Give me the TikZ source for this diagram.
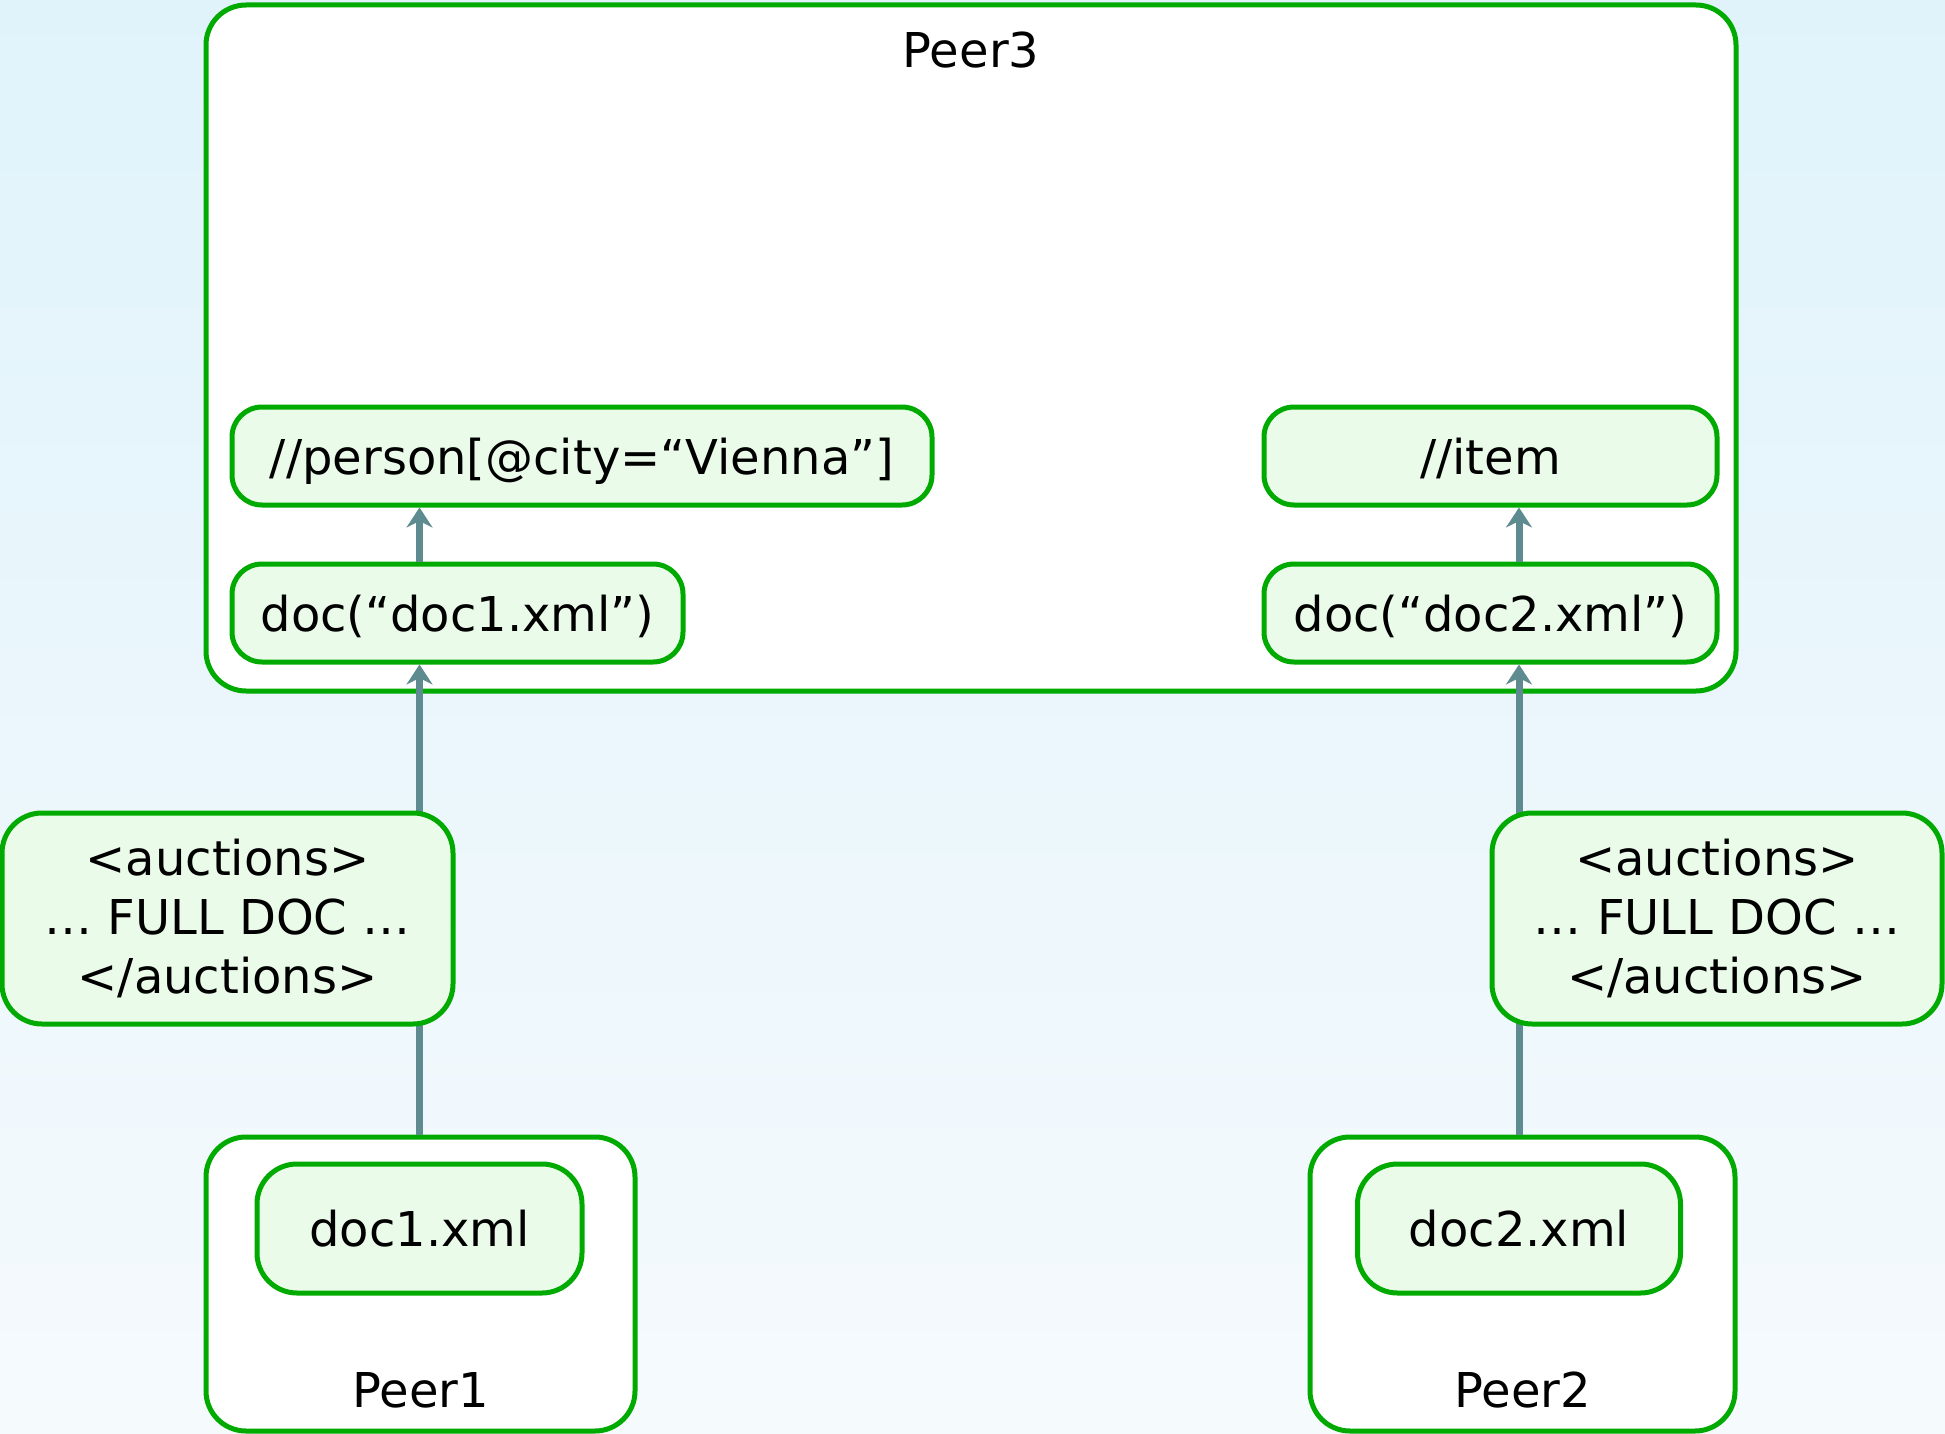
\documentclass[tikz,border=0pt]{standalone}
\usepackage{fontspec}
\setmainfont{DejaVu Sans}
\usetikzlibrary{arrows.meta}

\definecolor{boxgreen}{RGB}{0,170,0}
\definecolor{boxfill}{RGB}{234,251,234}
\definecolor{flowgray}{RGB}{94,139,144}
\definecolor{bgtop}{RGB}{224,243,251}
\definecolor{bgbottom}{RGB}{245,250,253}

\tikzset{
    peerbox/.style={draw=boxgreen, line width=2.5pt, fill=white, rounded corners=20pt, inner sep=0pt},
    querybox/.style={draw=boxgreen, line width=2.5pt, fill=boxfill, rounded corners=15pt, inner sep=0pt, minimum height=49pt, text depth=0pt},
    docbox/.style={draw=boxgreen, line width=2.5pt, fill=boxfill, rounded corners=20pt, inner sep=0pt},
    flow/.style={draw=flowgray, line width=3.5pt, -{Stealth[length=10pt,width=13pt]}},
}

\begin{document}
\begin{tikzpicture}[x=0.5pt, y=-0.5pt, font=\fontsize{24}{29.5}\selectfont]
    \shade[top color=bgtop, bottom color=bgbottom] (0,0) rectangle (1945,1434);
    \useasboundingbox (0,0) rectangle (1945,1434);

    % peer 3 with its two queries
    \node[peerbox, minimum width=765pt, minimum height=343pt] (peer3) at (971,348) {};
    \node (peer3title) at (971,50) {Peer3};
    \node[querybox, minimum width=350pt] (person) at (582,456) {//person[@city=“Vienna”]};
    \node[querybox, minimum width=226.5pt] (item) at (1490.5,456) {//item};
    \node[querybox, minimum width=225.5pt] (doc1q) at (457.5,613) {doc(“doc1.xml”)};
    \node[querybox, minimum width=226.5pt] (doc2q) at (1490.5,613) {doc(“doc2.xml”)};

    % peers 1 and 2
    \node[peerbox, minimum width=214.5pt, minimum height=147pt] (peer1) at (420.5,1284) {};
    \node[docbox, minimum width=162.5pt, minimum height=64.5pt] (doc1) at (419.5,1228.5) {doc1.xml};
    \node (peer1title) at (420.5,1390) {Peer1};

    \node[peerbox, minimum width=212.5pt, minimum height=147pt] (peer2) at (1522.5,1284) {};
    \node[docbox, minimum width=161.5pt, minimum height=64.5pt] (doc2) at (1519,1228.5) {doc2.xml};
    \node (peer2title) at (1522.5,1390) {Peer2};

    % shipping the documents
    \draw[flow] (doc1 |- peer1.north) -- (doc1 |- doc1q.south);
    \draw[flow] (doc1 |- doc1q.north) -- (doc1 |- person.south);
    \draw[flow] (doc2 |- peer2.north) -- (doc2 |- doc2q.south);
    \draw[flow] (doc2 |- doc2q.north) -- (doc2 |- item.south);

    \node[docbox, minimum width=225.5pt, minimum height=105.5pt, align=center] (auc1) at (227.5,918.5)
        {<auctions>\\… FULL DOC …\\</auctions>};
    \node[docbox, minimum width=225pt, minimum height=105.5pt, align=center] (auc2) at (1717,918.5)
        {<auctions>\\… FULL DOC …\\</auctions>};
\end{tikzpicture}
\end{document}
